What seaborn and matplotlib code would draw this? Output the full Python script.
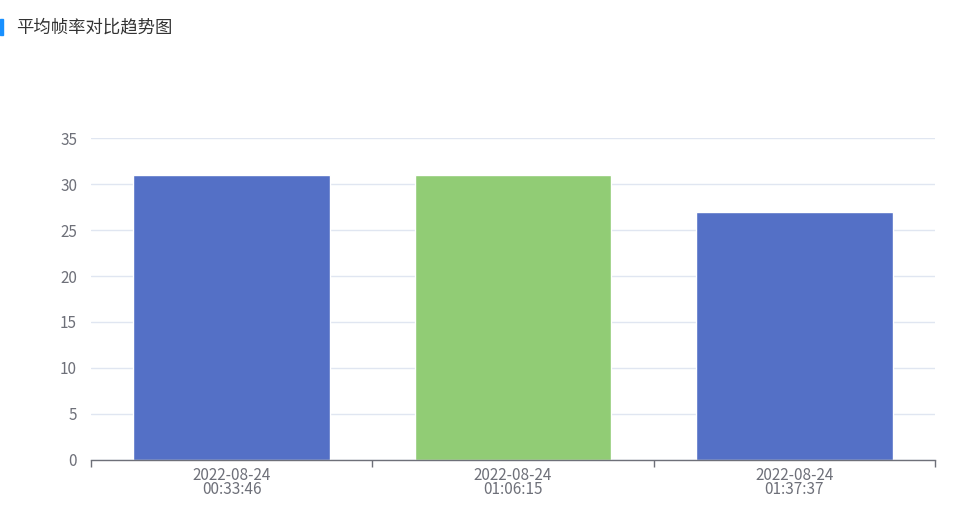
import pandas as pd
import matplotlib.pyplot as plt
import matplotlib.patches as mpatches
import seaborn as sns

# --- DATA ---
times = ['2022-08-24\n00:33:46', '2022-08-24\n01:06:15', '2022-08-24\n01:37:37']
fps = [31, 31, 27]
bar_colors = ['#5470c6', '#91cc75', '#5470c6']
y_ticks = [0, 5, 10, 15, 20, 25, 30, 35]

df = pd.DataFrame({'time': times, 'fps': fps})

sns.set_style("white")
plt.rcParams['font.family'] = ['Noto Sans CJK SC', 'DejaVu Sans']

fig = plt.figure(figsize=(9.67, 5.13), dpi=100)
ax = fig.add_axes([91 / 967, 53 / 513, 844 / 967, 322 / 513])

sns.barplot(data=df, x='time', y='fps', hue='time', palette=bar_colors,
            width=0.7, legend=False, ax=ax, saturation=1)

ax.set_xlim(-0.5, 2.5)
ax.set_ylim(0, 35)
ax.set_yticks(y_ticks)
ax.yaxis.grid(True, color='#e0e6f1', linewidth=1)
ax.set_axisbelow(True)
ax.set_xlabel('')
ax.set_ylabel('')

for side in ['top', 'right', 'left']:
    ax.spines[side].set_visible(False)
ax.spines['bottom'].set_color('#6e7079')
ax.spines['bottom'].set_linewidth(1)

ax.tick_params(axis='y', length=0, labelsize=11, labelcolor='#6e7079', pad=10)
ax.tick_params(axis='x', which='major', length=0, labelsize=11, labelcolor='#6e7079', pad=5)
ax.set_xticks([-0.5, 0.5, 1.5, 2.5], minor=True)
ax.tick_params(axis='x', which='minor', bottom=True, length=5, color='#6e7079', width=1)
for lab in ax.get_xticklabels():
    lab.set_linespacing(0.8)

# title with accent bar
fig.patches.append(mpatches.Rectangle((0, 1 - 35 / 513), 3 / 967, 16 / 513,
                                      transform=fig.transFigure, color='#1890ff'))
fig.text(16 / 967, 1 - 27 / 513, '平均帧率对比趋势图', fontsize=12.5, color='#333333',
         va='center', ha='left')

plt.savefig('out.png', dpi=100)
plt.close()
